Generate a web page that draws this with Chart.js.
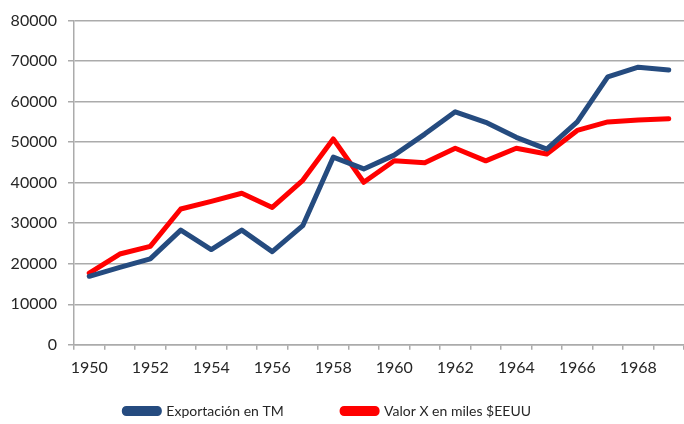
<!DOCTYPE html>
<html>
<head>
<meta charset="utf-8">
<script src="https://cdn.jsdelivr.net/npm/chart.js@4"></script>
<style>
  html, body { margin: 0; padding: 0; background: #fff; }
  #wrap { width: 684px; height: 424px; position: relative; }
</style>
</head>
<body>
<div id="wrap"><canvas id="chart"></canvas></div>
<script>
const years = ["1950","1951","1952","1953","1954","1955","1956","1957","1958","1959",
               "1960","1961","1962","1963","1964","1965","1966","1967","1968","1969"];
const exportTM = [16900, 19100, 21200, 28300, 23500, 28300, 23000, 29400, 46300, 43400,
                  46800, 52000, 57500, 54900, 51200, 48300, 55000, 66100, 68500, 67800];
const valorX = [17700, 22400, 24300, 33500, 35400, 37400, 33900, 40600, 50800, 40100,
                45400, 44900, 48500, 45400, 48500, 47100, 52900, 55000, 55500, 55800];
const yTicks = [0, 10000, 20000, 30000, 40000, 50000, 60000, 70000, 80000];

const BLUE = "#254b7f";
const RED = "#ff0000";
const GRID = "#ababab";
const TXT = "#262626";
const FONT = "Lato";
const LEG_SIZE = 14;

// legend items are spread like the original: pad text with spaces up to a width
const meas = document.createElement("canvas").getContext("2d");
meas.font = LEG_SIZE + "px " + FONT;
function padTo(text, w) {
    let t = text;
    while (meas.measureText(t + " ").width <= w) t += " ";
    return t;
}
const legendWidths = [160, 177];

const ctx = document.getElementById("chart").getContext("2d");
new Chart(ctx, {
    type: "line",
    data: {
        labels: years,
        datasets: [
            { label: "Exportación en TM", data: exportTM, borderColor: BLUE, backgroundColor: BLUE,
              borderWidth: 5, pointRadius: 0, tension: 0, borderCapStyle: "round", borderJoinStyle: "round" },
            { label: "Valor X en miles $EEUU", data: valorX, borderColor: RED, backgroundColor: RED,
              borderWidth: 5, pointRadius: 0, tension: 0, borderCapStyle: "round", borderJoinStyle: "round" }
        ]
    },
    options: {
        responsive: true,
        maintainAspectRatio: false,
        animation: false,
        layout: { padding: { top: 12, right: 0, left: 0, bottom: -4 } },
        scales: {
            x: {
                offset: true,
                grid: { offset: true, drawOnChartArea: false, drawTicks: true, tickLength: 5, color: GRID, lineWidth: 1.5 },
                border: { color: GRID, width: 1.5 },
                ticks: {
                    autoSkip: false, maxRotation: 0, padding: 8, color: TXT,
                    font: { family: FONT, size: 16 },
                    callback: (v, i) => (i % 2 === 0 ? years[i] : "")
                }
            },
            y: {
                min: 0, max: 80000,
                afterBuildTicks: s => { s.ticks = yTicks.map(v => ({ value: v })); },
                afterFit: s => { s.width = 74; },
                grid: { color: GRID, lineWidth: 1.5, tickLength: 6 },
                border: { color: GRID, width: 1.5 },
                ticks: { padding: 11, color: TXT, font: { family: FONT, size: 16 }, callback: v => String(v) }
            }
        },
        plugins: {
            legend: {
                position: "bottom",
                labels: {
                    boxWidth: 35, boxHeight: 5, padding: 19, color: TXT,
                    font: { family: FONT, size: LEG_SIZE },
                    useBorderRadius: true, borderRadius: 2,
                    generateLabels: chart => {
                        const items = Chart.defaults.plugins.legend.labels.generateLabels(chart);
                        items.forEach((it, i) => { it.text = padTo(it.text, legendWidths[i]); });
                        return items;
                    }
                }
            },
            tooltip: { enabled: false }
        }
    }
});
</script>
</body>
</html>
